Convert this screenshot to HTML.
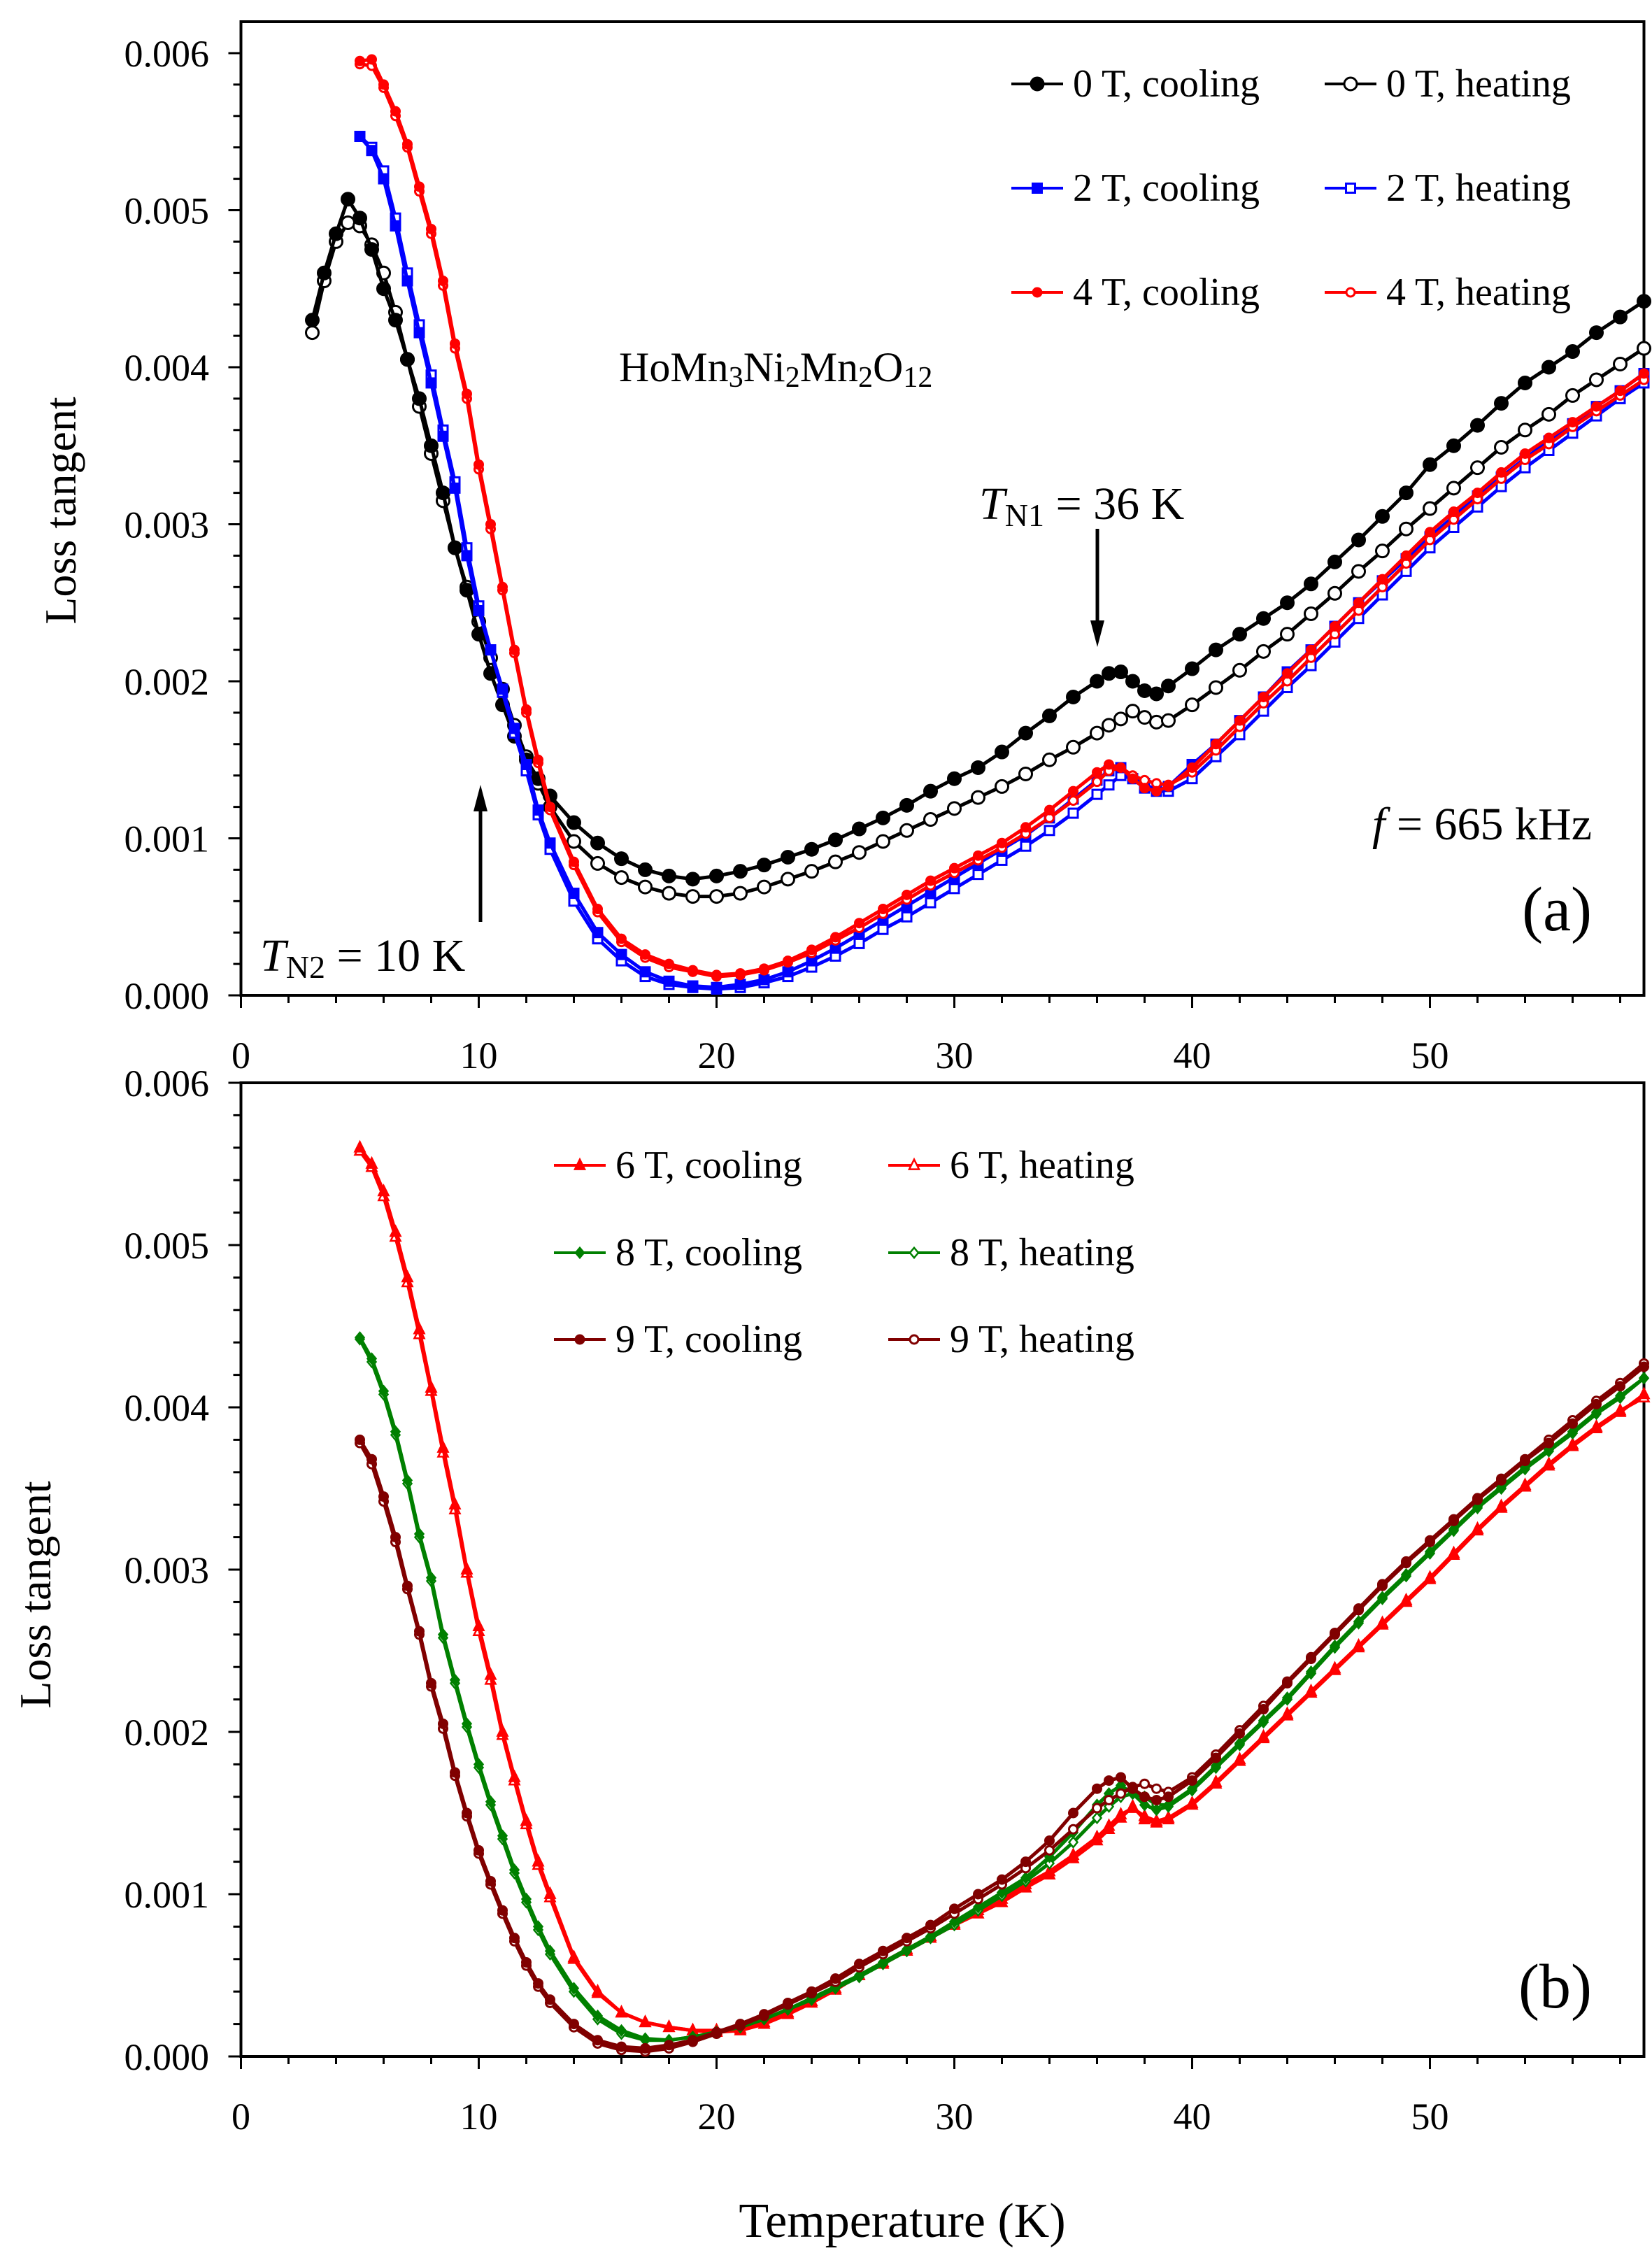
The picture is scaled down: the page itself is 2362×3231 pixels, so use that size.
<!DOCTYPE html>
<html><head><meta charset="utf-8"><style>
html,body{margin:0;padding:0;background:#fff;}
svg, svg text{font-family:"Liberation Serif","Times New Roman",serif;}
</style></head><body>
<svg id="chart" xmlns="http://www.w3.org/2000/svg" width="2362" height="3226" viewBox="0 0 2362 3226" font-family="Liberation Serif, serif">
<rect width="2362" height="3226" fill="#fff"/>
<g id="panelA"></g>
<g id="panelB"></g>
</svg>
<script>
const temps=[3,3.5,4,4.5,5,5.5,6,6.5,7,7.5,8,8.5,9,9.5,10,10.5,11,11.5,12,12.5,13,14,15,16,17,18,19,20,21,22,23,24,25,26,27,28,29,30,31,32,33,34,35,36,36.5,37,37.5,38,38.5,39,40,41,42,43,44,45,46,47,48,49,50,51,52,53,54,55,56,57,58,59];
const xTicks=[0,10,20,30,40,50];
const yTicks=[0,0.001,0.002,0.003,0.004,0.005,0.006];
const yTickLabels=["0.000","0.001","0.002","0.003","0.004","0.005","0.006"];
const N=null;
// values in units of 1e-3
const t0cool=[4.3,4.6,4.85,5.07,4.95,4.75,4.5,4.3,4.05,3.8,3.5,3.2,2.85,2.58,2.3,2.05,1.85,1.65,1.5,1.38,1.27,1.1,0.97,0.87,0.8,0.76,0.74,0.76,0.79,0.83,0.88,0.93,0.99,1.06,1.13,1.21,1.3,1.38,1.45,1.55,1.67,1.78,1.9,2.0,2.05,2.06,2.0,1.94,1.92,1.97,2.08,2.2,2.3,2.4,2.5,2.62,2.76,2.9,3.05,3.2,3.38,3.5,3.63,3.77,3.9,4.0,4.1,4.22,4.32,4.42];
const t0heat=[4.22,4.55,4.8,4.92,4.9,4.78,4.6,4.35,4.05,3.75,3.45,3.15,2.85,2.6,2.38,2.15,1.95,1.72,1.52,1.35,1.2,0.98,0.84,0.75,0.69,0.65,0.63,0.63,0.65,0.69,0.74,0.79,0.85,0.91,0.98,1.05,1.12,1.19,1.26,1.33,1.41,1.5,1.58,1.67,1.72,1.76,1.81,1.77,1.74,1.75,1.85,1.96,2.07,2.19,2.3,2.43,2.56,2.7,2.83,2.97,3.1,3.23,3.36,3.49,3.6,3.7,3.82,3.92,4.02,4.12];
const t2cool=[N,N,N,N,5.47,5.38,5.2,4.9,4.55,4.22,3.9,3.56,3.23,2.8,2.45,2.2,1.95,1.7,1.47,1.18,0.97,0.65,0.4,0.26,0.15,0.09,0.06,0.05,0.07,0.1,0.15,0.22,0.3,0.39,0.48,0.57,0.66,0.75,0.84,0.93,1.02,1.13,1.25,1.37,1.43,1.45,1.38,1.32,1.3,1.33,1.47,1.6,1.75,1.9,2.06,2.2,2.35,2.5,2.64,2.78,2.92,3.05,3.18,3.3,3.42,3.53,3.64,3.75,3.85,3.96];
const t2heat=[N,N,N,N,5.47,5.4,5.25,4.95,4.6,4.27,3.95,3.6,3.27,2.85,2.48,2.2,1.93,1.67,1.43,1.15,0.93,0.6,0.36,0.22,0.12,0.07,0.05,0.04,0.05,0.08,0.12,0.18,0.25,0.33,0.42,0.5,0.59,0.68,0.77,0.86,0.95,1.05,1.16,1.28,1.34,1.4,1.38,1.35,1.3,1.3,1.38,1.52,1.66,1.81,1.96,2.1,2.25,2.4,2.55,2.7,2.85,2.98,3.11,3.24,3.36,3.47,3.58,3.69,3.8,3.9];
const t4cool=[N,N,N,N,5.95,5.96,5.8,5.63,5.42,5.15,4.88,4.55,4.15,3.83,3.38,3.0,2.6,2.2,1.82,1.5,1.2,0.85,0.55,0.36,0.26,0.2,0.16,0.13,0.14,0.17,0.22,0.29,0.37,0.46,0.55,0.64,0.73,0.81,0.89,0.97,1.07,1.18,1.3,1.42,1.47,1.45,1.38,1.32,1.3,1.33,1.45,1.6,1.75,1.9,2.05,2.2,2.35,2.5,2.65,2.8,2.95,3.08,3.2,3.33,3.45,3.55,3.65,3.75,3.85,3.96];
const t4heat=[N,N,N,N,5.93,5.92,5.78,5.6,5.4,5.12,4.85,4.52,4.12,3.8,3.35,2.97,2.58,2.18,1.8,1.48,1.18,0.83,0.53,0.34,0.24,0.18,0.15,0.12,0.13,0.16,0.21,0.27,0.35,0.43,0.52,0.61,0.7,0.78,0.86,0.94,1.03,1.13,1.24,1.36,1.43,1.45,1.4,1.37,1.35,1.34,1.42,1.56,1.71,1.86,2.0,2.15,2.3,2.45,2.6,2.75,2.9,3.03,3.16,3.29,3.41,3.51,3.62,3.72,3.82,3.92];
const t6cool=[N,N,N,N,5.6,5.5,5.33,5.08,4.8,4.48,4.12,3.75,3.4,3.0,2.65,2.35,2.0,1.72,1.45,1.2,1.0,0.61,0.4,0.27,0.21,0.18,0.16,0.15,0.16,0.2,0.26,0.33,0.41,0.5,0.57,0.65,0.73,0.81,0.88,0.95,1.04,1.12,1.22,1.33,1.4,1.47,1.54,1.46,1.44,1.46,1.55,1.68,1.82,1.96,2.1,2.24,2.38,2.52,2.66,2.8,2.94,3.09,3.24,3.38,3.51,3.64,3.76,3.87,3.97,4.08];
const t6heat=[N,N,N,N,5.58,5.48,5.3,5.05,4.77,4.45,4.1,3.72,3.37,2.98,2.62,2.32,1.98,1.7,1.43,1.18,0.98,0.6,0.39,0.27,0.21,0.18,0.16,0.16,0.17,0.21,0.27,0.34,0.42,0.5,0.58,0.66,0.74,0.82,0.9,0.97,1.06,1.14,1.24,1.35,1.42,1.49,1.53,1.48,1.45,1.47,1.56,1.69,1.83,1.97,2.11,2.25,2.39,2.53,2.67,2.81,2.95,3.1,3.25,3.39,3.52,3.65,3.77,3.88,3.98,4.06];
const t8cool=[N,N,N,N,4.43,4.3,4.1,3.85,3.55,3.22,2.95,2.6,2.32,2.05,1.8,1.57,1.36,1.15,0.97,0.8,0.65,0.42,0.25,0.16,0.11,0.1,0.12,0.15,0.18,0.23,0.29,0.36,0.43,0.5,0.58,0.66,0.74,0.83,0.92,1.01,1.1,1.23,1.38,1.55,1.62,1.67,1.62,1.55,1.52,1.54,1.64,1.78,1.92,2.06,2.2,2.36,2.52,2.67,2.82,2.96,3.1,3.24,3.38,3.5,3.62,3.73,3.84,3.96,4.06,4.18];
const t8heat=[N,N,N,N,4.42,4.28,4.08,3.83,3.53,3.2,2.93,2.58,2.3,2.03,1.78,1.55,1.34,1.13,0.95,0.78,0.63,0.4,0.23,0.14,0.1,0.1,0.12,0.15,0.18,0.23,0.29,0.35,0.42,0.49,0.57,0.65,0.73,0.81,0.9,0.99,1.08,1.19,1.32,1.47,1.54,1.6,1.62,1.6,1.55,1.55,1.65,1.79,1.93,2.07,2.21,2.37,2.53,2.68,2.83,2.97,3.11,3.25,3.39,3.51,3.63,3.74,3.85,3.97,4.07,4.18];
const t9cool=[N,N,N,N,3.8,3.68,3.45,3.2,2.9,2.62,2.3,2.05,1.75,1.5,1.27,1.08,0.9,0.73,0.58,0.45,0.35,0.2,0.1,0.06,0.05,0.07,0.1,0.15,0.2,0.26,0.33,0.4,0.48,0.57,0.65,0.73,0.81,0.91,1.0,1.09,1.2,1.33,1.5,1.65,1.7,1.72,1.65,1.6,1.58,1.6,1.7,1.84,1.99,2.14,2.3,2.45,2.6,2.75,2.9,3.04,3.17,3.3,3.43,3.55,3.67,3.78,3.9,4.02,4.13,4.25];
const t9heat=[N,N,N,N,3.78,3.65,3.42,3.17,2.88,2.6,2.28,2.02,1.73,1.48,1.25,1.06,0.88,0.71,0.56,0.43,0.33,0.18,0.08,0.04,0.03,0.05,0.09,0.14,0.19,0.25,0.32,0.39,0.46,0.55,0.63,0.71,0.79,0.88,0.97,1.06,1.16,1.27,1.4,1.53,1.58,1.62,1.66,1.68,1.65,1.63,1.72,1.86,2.01,2.16,2.31,2.46,2.61,2.76,2.91,3.05,3.18,3.31,3.44,3.56,3.68,3.8,3.92,4.04,4.15,4.27];

const NS="http://www.w3.org/2000/svg";
const FONT='"Liberation Serif", serif';
function mk(tag,attrs,parent){const e=document.createElementNS(NS,tag);for(const k in attrs)e.setAttribute(k,attrs[k]);if(tag==='text')e.setAttribute('font-family',FONT);parent.appendChild(e);return e;}
const X0=344.5, XS=34.0, XMAX=59.0;
function xs(t){return X0+XS*t;}
function makePanel(g,frameTop,yTop,yZero,name){
  const ys=v=>yZero-(v/0.006)*(yZero-yTop);
  const fr=mk('rect',{x:X0,y:frameTop,width:xs(XMAX)-X0,height:yZero-frameTop,fill:'none',stroke:'#000','stroke-width':4},g);
  
  
  for(let t=0;t<=58;t+=2){const L=(t%10===0)?18:11;
    const tk=mk('line',{x1:xs(t),x2:xs(t),y1:yZero,y2:yZero+L,stroke:'#000','stroke-width':3},g);
    
    }
  for(let i=0;i<=30;i++){const v=i*0.0002;const L=(i%5===0)?18:11;
    const tk=mk('line',{x1:X0-L,x2:X0,y1:ys(v),y2:ys(v),stroke:'#000','stroke-width':3},g);
    
    }
  xTicks.forEach(t=>{const tx=mk('text',{x:xs(t),y:yZero+104,'font-size':54,'text-anchor':'middle'},g);tx.textContent=t;
    
    });
  yTicks.forEach((v,i)=>{const tx=mk('text',{x:299,y:ys(v)+19,'font-size':54,'text-anchor':'end'},g);tx.textContent=yTickLabels[i];
    
    });
  return ys;
}
function marker(g,type,color,filled,x,y,s){
  let e;const fill=filled?color:'#fff';
  if(type==='circle')e=mk('circle',{cx:x,cy:y,r:s,fill:fill,stroke:color,'stroke-width':3},g);
  else if(type==='square')e=mk('rect',{x:x-s,y:y-s,width:2*s,height:2*s,fill:fill,stroke:color,'stroke-width':3},g);
  else if(type==='tri')e=mk('polygon',{points:`${x},${y-s*1.2} ${x-s},${y+s*0.8} ${x+s},${y+s*0.8}`,fill:fill,stroke:color,'stroke-width':2.5},g);
  else e=mk('polygon',{points:`${x},${y-s*1.2} ${x+s},${y} ${x},${y+s*1.2} ${x-s},${y}`,fill:fill,stroke:color,'stroke-width':2.5},g);
  return e;
}
function series(g,ys,vals,type,color,filled,s,name){
  const sg=mk('g',{},g);
  
  
  const pts=[];
  temps.forEach((t,i)=>{if(vals[i]!==null)pts.push([xs(t),ys(vals[i]/1000)]);});
  mk('polyline',{points:pts.map(p=>p.join(',')).join(' '),fill:'none',stroke:color,'stroke-width':5},sg);
  pts.forEach(p=>{const m=marker(sg,type,color,filled,p[0],p[1],s);
    
    });
}
function legend(g,x,y,type,color,filled,s,label,name){
  const lg=mk('g',{},g);
  
  
  mk('line',{x1:x,x2:x+74,y1:y,y2:y,stroke:color,'stroke-width':4},lg);
  marker(lg,type,color,filled,x+37,y,s);
  const tx=mk('text',{x:x+88,y:y+18,'font-size':56},lg);tx.textContent=label;
}
function text(g,x,y,size,html,name,anchor){
  const t=mk('text',{x:x,y:y,'font-size':size,'text-anchor':anchor||'start'},g);t.innerHTML=html;
  
  
  return t;
}
function arrow(g,x,y1,y2,name){
  const ag=mk('g',{},g);
  
  
  const dir=y2>y1?1:-1;
  mk('line',{x1:x,x2:x,y1:y1,y2:y2-dir*30,stroke:'#000','stroke-width':5},ag);
  mk('polygon',{points:`${x},${y2} ${x-10},${y2-dir*38} ${x+10},${y2-dir*38}`,fill:'#000'},ag);
}
// Panel A
const gA=document.getElementById('panelA');
const ysA=makePanel(gA,31,76,1423,'panel-a');
series(gA,ysA,t0heat,'circle','#000',false,9,'series-0t-heating');
series(gA,ysA,t0cool,'circle','#000',true,9,'series-0t-cooling');
series(gA,ysA,t2heat,'square','#0000ff',false,6.5,'series-2t-heating');
series(gA,ysA,t2cool,'square','#0000ff',true,6.5,'series-2t-cooling');
series(gA,ysA,t4heat,'circle','#ff0000',false,6,'series-4t-heating');
series(gA,ysA,t4cool,'circle','#ff0000',true,6,'series-4t-cooling');
legend(gA,1446,120,'circle','#000',true,9,'0 T, cooling','legend-0t-cooling');
legend(gA,1894,120,'circle','#000',false,9,'0 T, heating','legend-0t-heating');
legend(gA,1446,269,'square','#0000ff',true,6.5,'2 T, cooling','legend-2t-cooling');
legend(gA,1894,269,'square','#0000ff',false,6.5,'2 T, heating','legend-2t-heating');
legend(gA,1446,418,'circle','#ff0000',true,6,'4 T, cooling','legend-4t-cooling');
legend(gA,1894,418,'circle','#ff0000',false,6,'4 T, heating','legend-4t-heating');
text(gA,885,545,60,'HoMn<tspan font-size="42" dy="8">3</tspan><tspan dy="-8">Ni</tspan><tspan font-size="42" dy="8">2</tspan><tspan dy="-8">Mn</tspan><tspan font-size="42" dy="8">2</tspan><tspan dy="-8">O</tspan><tspan font-size="42" dy="8">12</tspan>','compound-label');
text(gA,1400,742,66,'<tspan font-style="italic">T</tspan><tspan font-size="46" dy="10">N1</tspan><tspan dy="-10"> = 36 K</tspan>','tn1-label');
arrow(gA,1569,756,925,'tn1-arrow');
text(gA,372,1388,66,'<tspan font-style="italic">T</tspan><tspan font-size="46" dy="10">N2</tspan><tspan dy="-10"> = 10 K</tspan>','tn2-label');
arrow(gA,687,1318,1122,'tn2-arrow');
text(gA,2276,1200,66,'<tspan font-style="italic">f</tspan> = 665 kHz','frequency-label','end');
text(gA,2276,1330,90,'(a)','panel-a-label','end');
text(gA,0,0,64,'Loss tangent','y-axis-title-a','middle').setAttribute('transform','translate(108,730) rotate(-90)');
// Panel B
const gB=document.getElementById('panelB');
const ysB=makePanel(gB,1548,1548,2940,'panel-b');
series(gB,ysB,t6heat,'tri','#ff0000',false,7,'series-6t-heating');
series(gB,ysB,t6cool,'tri','#ff0000',true,7,'series-6t-cooling');
series(gB,ysB,t8heat,'diamond','#008000',false,6,'series-8t-heating');
series(gB,ysB,t8cool,'diamond','#008000',true,6,'series-8t-cooling');
series(gB,ysB,t9heat,'circle','#800000',false,6,'series-9t-heating');
series(gB,ysB,t9cool,'circle','#800000',true,6,'series-9t-cooling');
legend(gB,792,1666,'tri','#ff0000',true,7,'6 T, cooling','legend-6t-cooling');
legend(gB,1270,1666,'tri','#ff0000',false,7,'6 T, heating','legend-6t-heating');
legend(gB,792,1791,'diamond','#008000',true,6,'8 T, cooling','legend-8t-cooling');
legend(gB,1270,1791,'diamond','#008000',false,6,'8 T, heating','legend-8t-heating');
legend(gB,792,1915,'circle','#800000',true,6,'9 T, cooling','legend-9t-cooling');
legend(gB,1270,1915,'circle','#800000',false,6,'9 T, heating','legend-9t-heating');
text(gB,2276,2870,90,'(b)','panel-b-label','end');
text(gB,0,0,64,'Loss tangent','y-axis-title-b','middle').setAttribute('transform','translate(72,2280) rotate(-90)');
text(gB,1290,3198,70,'Temperature (K)','x-axis-title','middle');
</script>
</body></html>
